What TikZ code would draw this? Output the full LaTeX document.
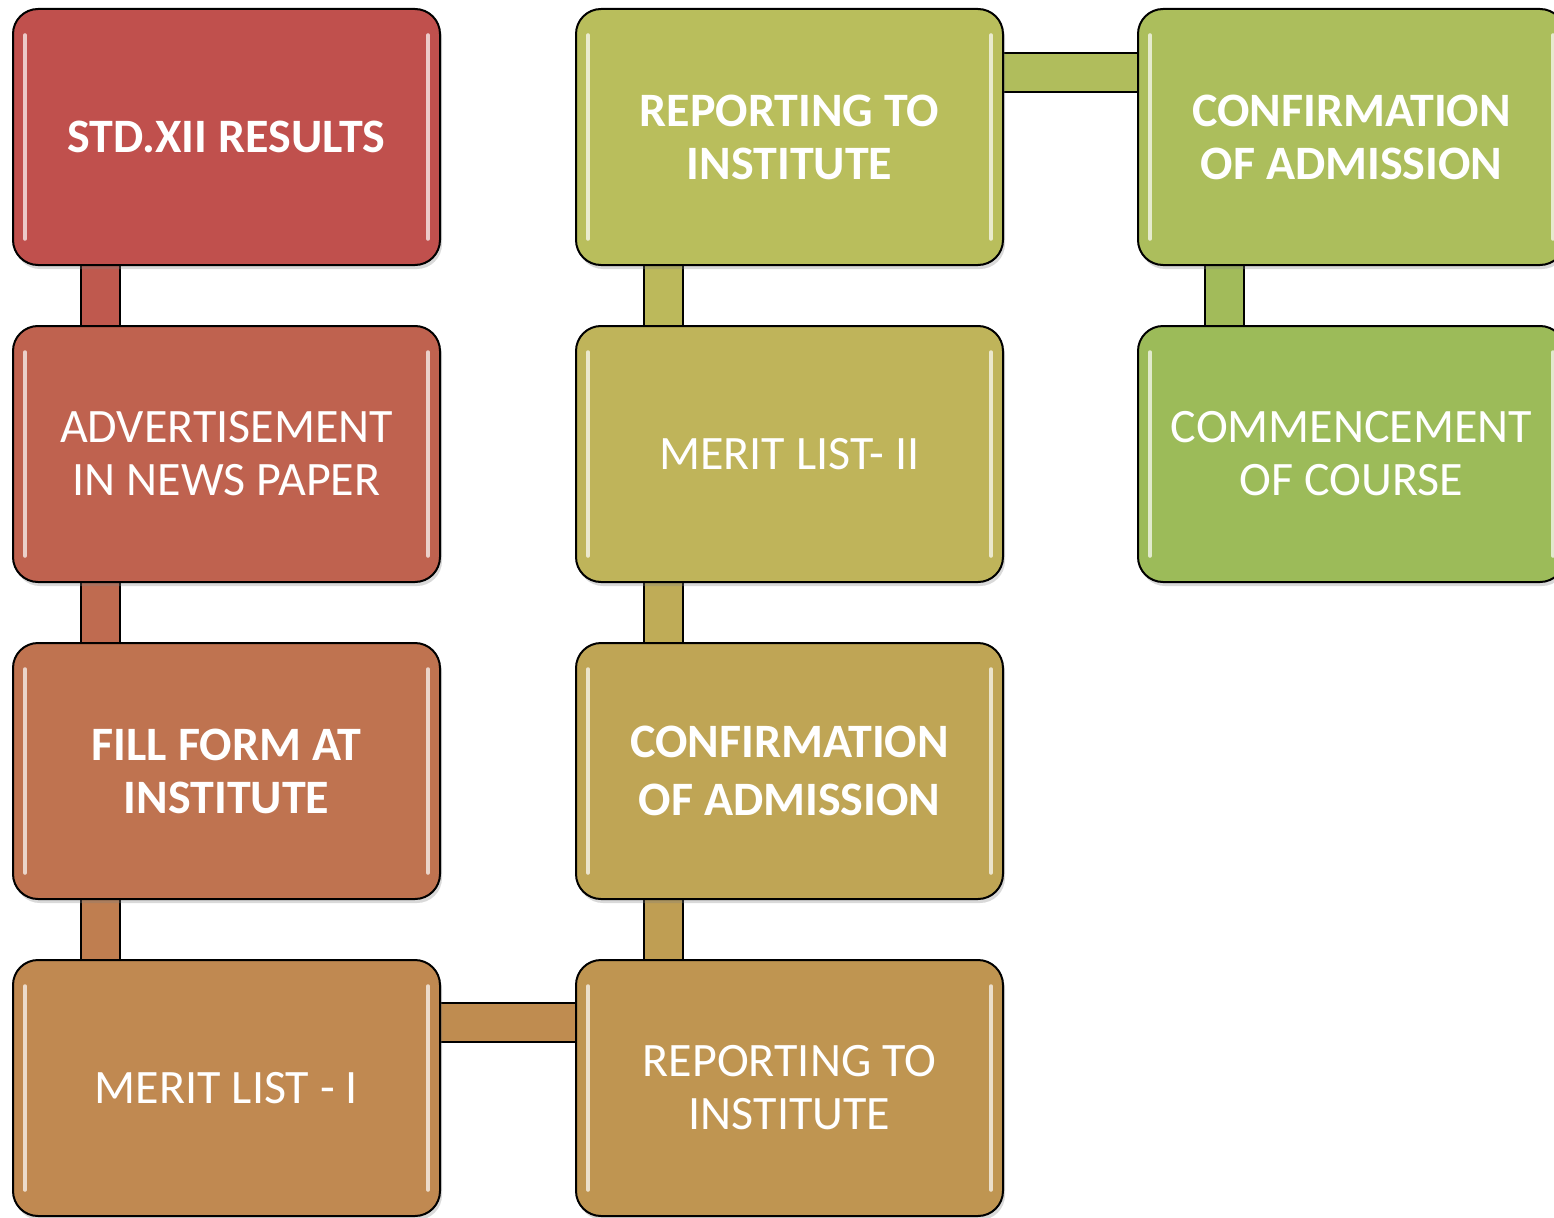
\documentclass[tikz,border=0pt]{standalone}
\usepackage{fontspec}
\setmainfont{Carlito}
\usetikzlibrary{shadows,backgrounds}
\definecolor{cA}{HTML}{C0504D}
\definecolor{cB}{HTML}{BF624F}
\definecolor{cC}{HTML}{BF7350}
\definecolor{cD}{HTML}{C08951}
\definecolor{cE}{HTML}{BF9551}
\definecolor{cF}{HTML}{BFA555}
\definecolor{cG}{HTML}{BFB45A}
\definecolor{cH}{HTML}{B9BE5C}
\definecolor{cI}{HTML}{ACBE5C}
\definecolor{cJ}{HTML}{9CBB59}
\definecolor{kAB}{HTML}{BF594E}
\definecolor{kBC}{HTML}{BF6B50}
\definecolor{kCD}{HTML}{BF7E50}
\definecolor{kDE}{HTML}{BF8C50}
\definecolor{kEF}{HTML}{BF9E53}
\definecolor{kFG}{HTML}{BFAC57}
\definecolor{kGH}{HTML}{BCB95B}
\definecolor{kHI}{HTML}{B0BD5C}
\definecolor{kIJ}{HTML}{A2BB5A}
\tikzset{
  stage/.style={rectangle, rounded corners=25pt, draw=black, line width=2pt,
    fill=#1, anchor=north west, minimum width=427pt, minimum height=256pt,
    text width=415pt, align=center, text=white, inner sep=0pt,
    font=\fontsize{48}{53}\selectfont,
    execute at begin node={\spaceskip=0.23em\relax\xspaceskip=0.23em\relax},
    drop shadow={opacity=0.3, shadow xshift=2pt, shadow yshift=-4pt},
    path picture={
      \draw[white, opacity=0.7, line width=3.5pt, line cap=round]
        ([xshift=12pt,yshift=-26pt]path picture bounding box.north west) --
        ([xshift=12pt,yshift=26pt]path picture bounding box.south west);
      \draw[white, opacity=0.7, line width=3.5pt, line cap=round]
        ([xshift=-12pt,yshift=-26pt]path picture bounding box.north east) --
        ([xshift=-12pt,yshift=26pt]path picture bounding box.south east);
    }},
  conn/.style={draw=black, line width=2pt, double=#1, double distance=37pt}
}
\begin{document}
\begin{tikzpicture}[x=1pt,y=-1pt]
\useasboundingbox (0,0) rectangle (1554,1217);
\node[stage=cA, font=\fontsize{48}{53}\selectfont\bfseries] (b1) at (12,8) {STD.XII RESULTS};
\node[stage=cB] (b2) at (12,325) {ADVERTISEMENT IN NEWS PAPER};
\node[stage=cC, font=\fontsize{48}{53}\selectfont\bfseries] (b3) at (12,642) {FILL FORM AT\\INSTITUTE};
\node[stage=cD] (b4) at (12,959) {MERIT LIST - I};
\node[stage=cE] (b5) at (575,959) {REPORTING TO\\INSTITUTE};
\node[stage=cF, font=\fontsize{48}{58}\selectfont\bfseries] (b6) at (575,642) {CONFIRMATION\\OF ADMISSION};
\node[stage=cG] (b7) at (575,325) {MERIT LIST- II};
\node[stage=cH, font=\fontsize{48}{53}\selectfont\bfseries] (b8) at (575,8) {REPORTING TO\\INSTITUTE};
\node[stage=cI, font=\fontsize{48}{53}\selectfont\bfseries] (b9) at (1137,8) {CONFIRMATION\\OF ADMISSION};
\node[stage=cJ] (b10) at (1137,325) {COMMENCEMENT\\OF COURSE};
\begin{scope}[on background layer]
\draw[conn=kAB] ([xshift=88.5pt]b1.south west) -- ([xshift=88.5pt]b2.north west);
\draw[conn=kBC] ([xshift=88.5pt]b2.south west) -- ([xshift=88.5pt]b3.north west);
\draw[conn=kCD] ([xshift=88.5pt]b3.south west) -- ([xshift=88.5pt]b4.north west);
\draw[conn=kDE] ([yshift=-63.5pt]b4.north east) -- ([yshift=-63.5pt]b5.north west);
\draw[conn=kEF] ([xshift=88pt]b5.north west) -- ([xshift=88pt]b6.south west);
\draw[conn=kFG] ([xshift=88pt]b6.north west) -- ([xshift=88pt]b7.south west);
\draw[conn=kGH] ([xshift=88pt]b7.north west) -- ([xshift=88pt]b8.south west);
\draw[conn=kHI] ([yshift=-64.5pt]b8.north east) -- ([yshift=-64.5pt]b9.north west);
\draw[conn=kIJ] ([xshift=87.5pt]b9.south west) -- ([xshift=87.5pt]b10.north west);
\end{scope}
\end{tikzpicture}
\end{document}
